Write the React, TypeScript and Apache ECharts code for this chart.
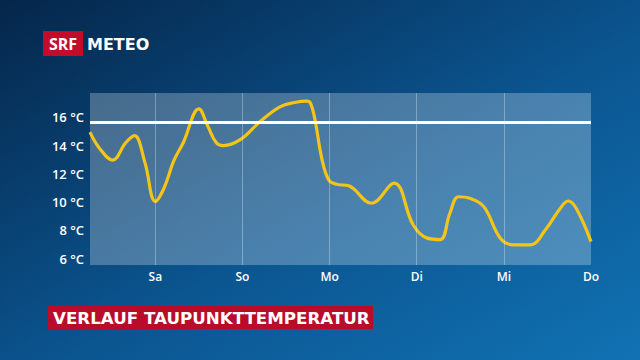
import React, { useEffect, useRef } from "react";
import * as echarts from "echarts";

// Time in days (Fr 00:00 = 0), dew point in °C
const dayPos = [0.25, 0.36, 0.51, 0.66, 0.76, 0.88, 1.0, 1.1, 1.21, 1.32, 1.5, 1.6, 1.7, 1.78, 1.97, 2.2, 2.43, 2.6, 2.74, 2.78, 2.83, 2.91, 2.99, 3.08, 3.22, 3.48, 3.74, 3.96, 4.12, 4.27, 4.38, 4.48, 4.61, 4.77, 4.96, 5.11, 5.3, 5.49, 5.64, 5.74, 5.83, 6.0];
const dewPoint = [14.95, 13.8, 12.97, 14.2, 14.7, 12.8, 10.05, 11.0, 12.9, 14.2, 16.6, 15.4, 14.2, 14.0, 14.4, 15.68, 16.74, 17.05, 17.14, 17.0, 15.9, 13.1, 11.56, 11.26, 11.15, 9.92, 11.35, 8.38, 7.45, 7.35, 9.2, 10.38, 10.27, 9.68, 7.44, 6.97, 6.97, 8.15, 9.5, 10.08, 9.56, 7.2];

const dayLines = [1, 2, 3, 4, 5];
const dayTicks = [1, 2, 3, 4, 5, 6];
const dayLabels: Record<number, string> = { 1: "Sa", 2: "So", 3: "Mo", 4: "Di", 5: "Mi", 6: "Do" };
const tempTicks = [6, 8, 10, 12, 14, 16];
const threshold = 15.68;

const title = "VERLAUF TAUPUNKTTEMPERATUR";

export default function App() {
  const ref = useRef<HTMLDivElement>(null);
  useEffect(() => {
    if (!ref.current) return;
    const chart = echarts.init(ref.current, undefined, { renderer: "svg" });
    const font = "'Open Sans', 'Noto Sans', sans-serif";
    const wide = "'DejaVu Sans', 'Open Sans', sans-serif";
    chart.setOption({
      animation: false,
      backgroundColor: new echarts.graphic.LinearGradient(0, 0, 1, 1, [
        { offset: 0, color: "#05264a" },
        { offset: 0.55, color: "#0b5590" },
        { offset: 1, color: "#1172b3" },
      ]),
      grid: {
        left: 90,
        top: 93,
        right: 49,
        bottom: 95,
        show: true,
        backgroundColor: "rgba(255,255,255,0.26)",
        borderWidth: 0,
      },
      xAxis: {
        type: "value",
        min: 0.25,
        max: 6,
        axisLine: { show: false },
        axisTick: { show: false, customValues: dayTicks },
        splitLine: { show: false },
        axisLabel: {
          customValues: dayTicks,
          formatter: (v: number) => dayLabels[Math.round(v)] || "",
          color: "#ffffff",
          fontFamily: font,
          fontSize: 12,
          fontWeight: 600,
          margin: 5,
        },
      },
      yAxis: {
        type: "value",
        min: 5.55,
        max: 17.72,
        axisLine: { show: false },
        axisTick: { show: false, customValues: tempTicks },
        splitLine: { show: false },
        axisLabel: {
          customValues: tempTicks,
          formatter: (v: number) => `${Math.round(v)} °C`,
          color: "#ffffff",
          fontFamily: font,
          fontSize: 13,
          fontWeight: 600,
          margin: 6,
        },
      },
      series: [
        {
          type: "line",
          data: dayPos.map((d, i) => [d, dewPoint[i]]),
          smooth: 0.4,
          symbol: "none",
          lineStyle: { color: "#f4c418", width: 3.2 },
          z: 3,
          markLine: {
            silent: true,
            symbol: "none",
            label: { show: false },
            data: [
              ...dayLines.map((d) => ({
                xAxis: d,
                lineStyle: { color: "rgba(255,255,255,0.3)", width: 1, type: "solid" },
              })),
              { yAxis: threshold, lineStyle: { color: "#ffffff", width: 3, type: "solid" } },
            ],
          },
        },
      ],
      graphic: [
        { type: "rect", shape: { x: 43, y: 31, width: 40, height: 25 }, style: { fill: "#c10d2b" } },
        {
          type: "text",
          x: 63,
          y: 44,
          style: { text: "SRF", fill: "#fff", font: `bold 16px ${font}`, align: "center", verticalAlign: "middle" },
        },
        {
          type: "text",
          x: 87,
          y: 44,
          style: { text: "METEO", fill: "#fff", font: `bold 16px ${wide}`, align: "left", verticalAlign: "middle" },
        },
        { type: "rect", shape: { x: 48, y: 306, width: 325, height: 23 }, style: { fill: "#b80c2a" } },
        {
          type: "text",
          x: 53,
          y: 318,
          style: { text: title, fill: "#fff", font: `bold 16.7px ${wide}`, align: "left", verticalAlign: "middle" },
        },
      ],
    });
    return () => chart.dispose();
  }, []);
  return <div ref={ref} style={{ position: "fixed", left: 0, top: 0, width: 640, height: 360 }} />;
}
